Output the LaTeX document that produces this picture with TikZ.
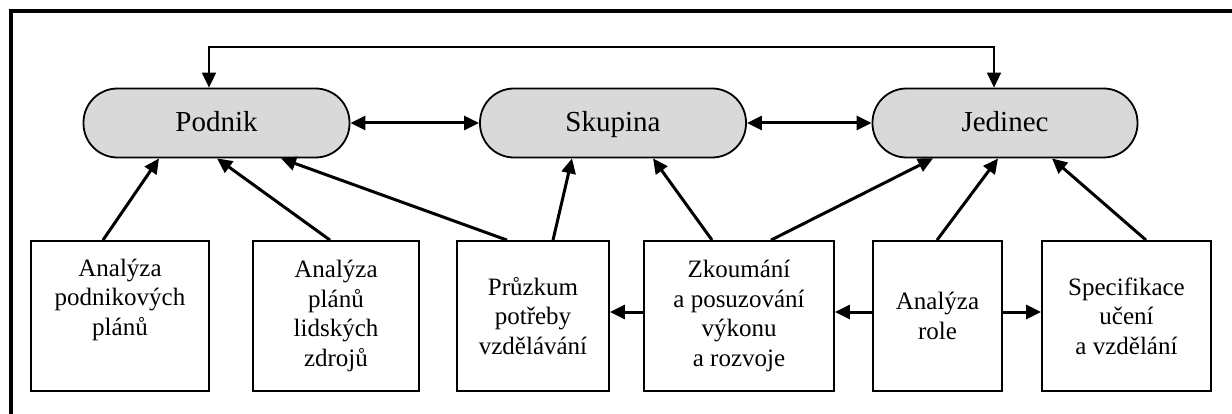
\documentclass[tikz,border=0pt]{standalone}
\usepackage{fontspec}
\setmainfont{Liberation Serif}
\usetikzlibrary{arrows.meta,calc}
\begin{document}
\begin{tikzpicture}[x=1pt,y=1pt,
  stadium/.style={draw=black, line width=1.8pt, fill=gray!30, rounded corners=34pt,
    minimum width=266pt, minimum height=69pt, inner sep=0pt, text height=19pt, text depth=1pt,
    font=\fontsize{29}{33}\selectfont},
  stepbox/.style={draw=black, line width=1.8pt, minimum height=150pt, inner sep=0pt,
    align=center, font=\fontsize{25}{29.5}\selectfont},
  conn/.style={line width=3pt, -{Triangle[length=15pt,width=14pt]}},
  dconn/.style={line width=3pt, {Triangle[length=15pt,width=14pt]}-{Triangle[length=15pt,width=14pt]}},
  topconn/.style={line width=1.8pt, {Triangle[length=15pt,width=14pt]}-{Triangle[length=15pt,width=14pt]}}
]
\useasboundingbox (0,0) rectangle (1232,-414);
% frame (top and left only)
\coordinate (fa) at (11,-414);
\coordinate (fb) at (11,-11);
\coordinate (fc) at (1232,-11);
\draw[line width=3.4pt] (fa) -- (fb) -- (fc);

% upper level
\node[stadium] (P) at (216.5,-123) {Podnik};
\node[stadium] (S) at (613,-123) {Skupina};
\node[stadium, minimum width=265pt] (J) at (1005,-123) {Jedinec};

% lower boxes
\node[stepbox, minimum width=178pt] (b1) at (120,-316) {Analýza\\podnikových\\plánů\\\strut};
\node[stepbox, minimum width=166pt] (b2) at (336,-316) {Analýza\\plánů\\lidských\\zdrojů};
\node[stepbox, minimum width=152pt] (b3) at (533,-316) {Průzkum\\potřeby\\vzdělávání};
\node[stepbox, minimum width=190pt] (b4) at (739,-316) {Zkoumání\\a posuzování\\výkonu\\a rozvoje};
\node[stepbox, minimum width=129pt] (b5) at (937.5,-316) {Analýza\\role};
\node[stepbox, minimum width=169pt] (b6) at (1126.5,-316) {Specifikace\\učení\\a vzdělání};

% top connector
\coordinate (t1) at (209,-47);
\coordinate (t2) at (994,-47);
\draw[topconn] (P.north -| t1) -- (t1) -- (t2) -- (J.north -| t2);

% horizontal double arrows
\draw[dconn] (P.east) -- (S.west);
\draw[dconn] (S.east) -- (J.west);

% arrows from boxes up
\draw[conn] (b1.north -| 103,0) -- (P.south -| 159,0);
\draw[conn] (b2.north -| 330,0) -- (P.south -| 217,0);
\draw[conn] (b3.north -| 507,0) -- (P.south -| 281,0);
\draw[conn] (b3.north -| 553,0) -- (S.south -| 572,0);
\draw[conn] (b4.north -| 712,0) -- (S.south -| 653,0);
\draw[conn] (b4.north -| 771,0) -- (J.south -| 933,0);
\draw[conn] (b5.north -| 937,0) -- (J.south -| 998,0);
\draw[conn] (b6.north -| 1146,0) -- (J.south -| 1052,0);

% horizontal arrows between boxes
\draw[conn] (b4.west |- 0,-312) -- (b3.east |- 0,-312);
\draw[conn] (b5.west |- 0,-312) -- (b4.east |- 0,-312);
\draw[conn] (b5.east |- 0,-312) -- (b6.west |- 0,-312);
\end{tikzpicture}
\end{document}
